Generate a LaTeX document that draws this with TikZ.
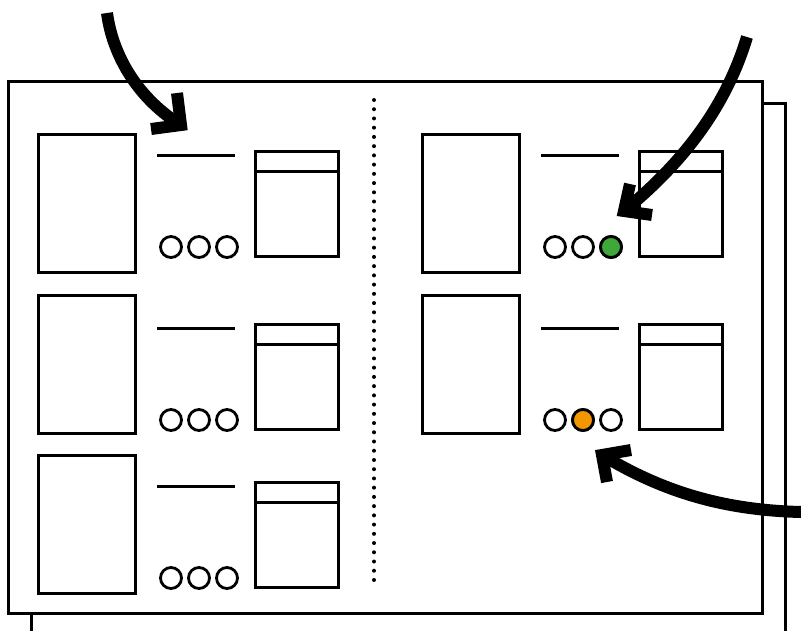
\documentclass[tikz,border=0pt]{standalone}
\usetikzlibrary{calc}
\definecolor{ledgreen}{RGB}{64,168,56}
\definecolor{ledorange}{RGB}{243,150,0}
\tikzset{
  x=1pt, y=-1pt,
  sheet/.style={draw, line width=3pt, fill=white},
  tallbox/.style={draw, line width=3pt, minimum width=97pt, minimum height=138pt, inner sep=0pt, outer sep=0pt},
  winbox/.style={draw, line width=3pt, minimum width=83pt, minimum height=105pt, inner sep=0pt, outer sep=0pt},
  led/.style={circle, draw, line width=2.8pt, minimum size=21pt, inner sep=0pt, fill=white},
  bar/.style={line width=3pt},
  divider/.style={line width=4pt, line cap=round, dash pattern=on 0pt off 9.23pt},
  bigshaft/.style={line width=12pt},
  barb/.style={line width=12pt, line join=miter, miter limit=10},
  pics/panel/.style args={#1/#2/#3}{code={
    \node[tallbox] (tall#1) at (86.5,#2+69) {};
    \coordinate (barl#1) at (157,#3+4);
    \coordinate (barr#1) at (235,#3+4);
    \draw[bar] (barl#1) -- (barr#1);
    \node[winbox] (win#1) at (296.5,#3+52.5) {};
    \draw[bar] ([yshift=-20pt]win#1.north west) -- ([yshift=-20pt]win#1.north east);
    \node[led] (ledA#1) at (171,#3+96) {};
    \node[led] (ledB#1) at (199,#3+96) {};
    \node[led] (ledC#1) at (227,#3+96) {};
  }}
}
\begin{document}
\begin{tikzpicture}
\useasboundingbox (0,0) rectangle (801,630);
% back and front sheets
\path[sheet] (31,103) rectangle (785,660);
\path[sheet] (8,81) rectangle (762,613);
% divider
\draw[divider] (374,100) -- (374,580);
% panels: name / tall top / window top
\pic at (0,0) {panel={L1/134/151}};
\pic at (0,0) {panel={L2/295/324}};
\pic at (0,0) {panel={L3/455/482}};
\pic at (384,0) {panel={R1/134/151}};
\pic at (384,0) {panel={R2/295/324}};
\node[led, fill=ledgreen] at (ledCR1) {};
\node[led, fill=ledorange] at (ledBR2) {};
% arrows
\coordinate (a1s) at (107,13);
\coordinate (a1t) at (181,125);
\draw[bigshaft] (a1s) .. controls (113,58) and (140,100) .. (a1t);
\draw[barb] (151,129) -- (a1t) -- (177,93);
\coordinate (a2s) at (747,37);
\coordinate (a2t) at (624,211);
\draw[bigshaft] (a2s) .. controls (725,110) and (680,165) .. (a2t);
\draw[barb] (630,184) -- (a2t) -- (652,215);
\coordinate (a3s) at (801,512);
\coordinate (a3t) at (602,455);
\draw[bigshaft] (a3s) .. controls (720,510) and (660,490) .. (a3t);
\draw[barb] (607,482) -- (a3t) -- (631,450);
\end{tikzpicture}
\end{document}
